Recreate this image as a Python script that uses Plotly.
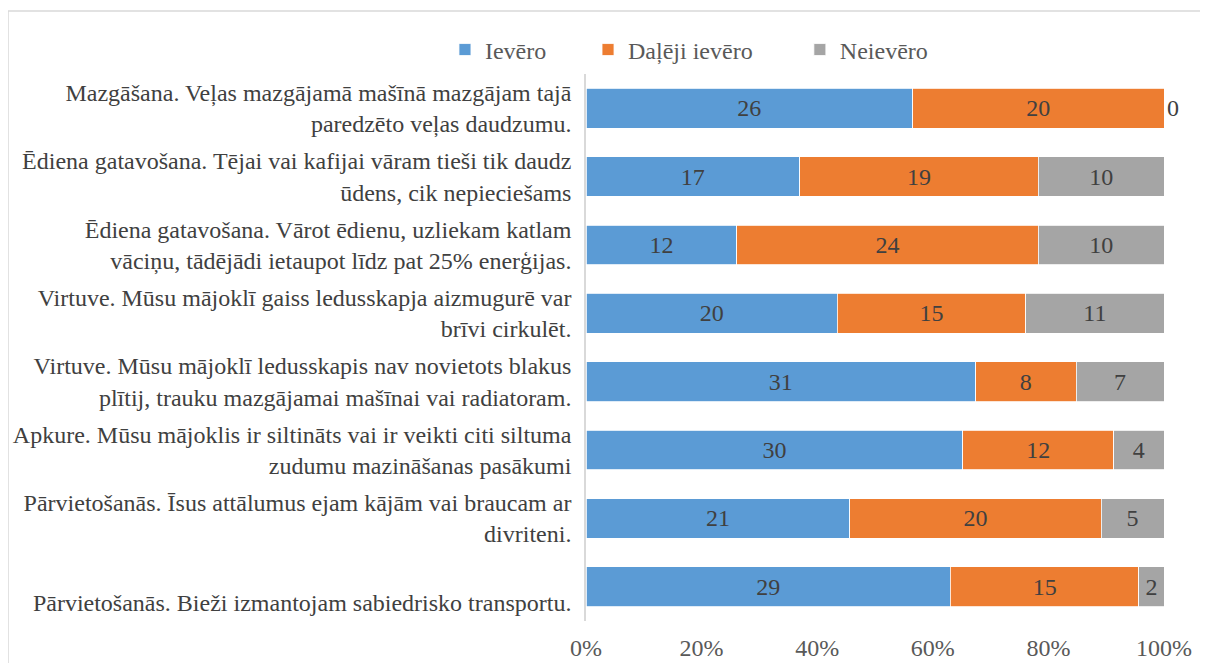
import plotly.graph_objects as go

categories = [
    "Mazgāšana. Veļas mazgājamā mašīnā mazgājam tajā<br>paredzēto veļas daudzumu.",
    "Ēdiena gatavošana. Tējai vai kafijai vāram tieši tik daudz<br>ūdens, cik nepieciešams",
    "Ēdiena gatavošana. Vārot ēdienu, uzliekam katlam<br>vāciņu, tādējādi ietaupot līdz pat 25% enerģijas.",
    "Virtuve. Mūsu mājoklī gaiss ledusskapja aizmugurē var<br>brīvi cirkulēt.",
    "Virtuve. Mūsu mājoklī ledusskapis nav novietots blakus<br>plītij, trauku mazgājamai mašīnai vai radiatoram.",
    "Apkure. Mūsu mājoklis ir siltināts vai ir veikti citi siltuma<br>zudumu mazināšanas pasākumi",
    "Pārvietošanās. Īsus attālumus ejam kājām vai braucam ar<br>divriteni.",
    " <br>Pārvietošanās. Bieži izmantojam sabiedrisko transportu.",
]
ievero = [26, 17, 12, 20, 31, 30, 21, 29]
dalj = [20, 19, 24, 15, 8, 12, 20, 15]
neievero = [0, 10, 10, 11, 7, 4, 5, 2]
series_names = ["Ievēro", "Daļēji ievēro", "Neievēro"]
colors = ["#5B9BD5", "#ED7D31", "#A5A5A5"]
x_ticks = [0, 20, 40, 60, 80, 100]
x_tick_labels = ["0%", "20%", "40%", "60%", "80%", "100%"]

FONT = "Times New Roman, Liberation Serif, serif"
legend_ids = ["legend", "legend2", "legend3"]
legend_x = [-0.244, 0.0035, 0.370]

fig = go.Figure()
for name, vals, col, lg in zip(series_names, [ievero, dalj, neievero], colors, legend_ids):
    tp = ["outside" if v == 0 else "inside" for v in vals]
    fig.add_trace(go.Bar(
        y=categories, x=vals, name=name, orientation="h", legend=lg,
        marker=dict(color=col, line=dict(color="white", width=0.8)),
        text=[str(v) for v in vals], textposition=tp,
        insidetextanchor="middle", cliponaxis=False,
        textfont=dict(family=FONT, size=24, color="#404040"),
        outsidetextfont=dict(family=FONT, size=24, color="#404040"),
        constraintext="none",
    ))

leg_common = dict(orientation="h", y=1.044, yanchor="middle", xanchor="left",
                  font=dict(family=FONT, size=24, color="#595959"),
                  itemwidth=30, bgcolor="rgba(0,0,0,0)")
fig.update_layout(
    barmode="stack", barnorm="percent", bargap=0.42,
    width=1200, height=655,
    margin=dict(l=578, r=44, t=66, b=42, autoexpand=False),
    paper_bgcolor="white", plot_bgcolor="white",
    font=dict(family=FONT, size=24, color="#404040"),
    legend=dict(x=legend_x[0], **leg_common),
    legend2=dict(x=legend_x[1], **leg_common),
    legend3=dict(x=legend_x[2], **leg_common),
    showlegend=True,
    uniformtext=dict(mode=False),
)
fig.update_xaxes(range=[0, 100], tickvals=x_ticks, ticktext=x_tick_labels,
                 showgrid=False, zeroline=False, showline=False, automargin=False,
                 ticks="outside", ticklen=5, tickcolor="rgba(0,0,0,0)",
                 tickfont=dict(family=FONT, size=24, color="#595959"))
fig.update_yaxes(autorange="reversed", showgrid=False, zeroline=False, automargin=False,
                 showline=True, linecolor="#D9D9D9", linewidth=1.5,
                 ticks="outside", ticklen=8, tickcolor="rgba(0,0,0,0)",
                 tickfont=dict(family=FONT, size=24, color="#404040"))
fig.add_shape(type="rect", xref="paper", yref="paper",
              x0=-1.0, x1=1.2, y0=-0.3, y1=1.115,
              line=dict(color="#D9D9D9", width=1.5), layer="below")
fig.write_html("out.html")
